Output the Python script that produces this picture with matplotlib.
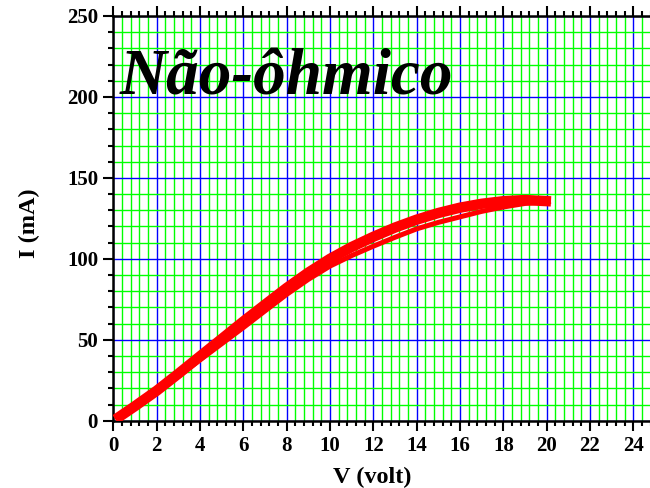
import matplotlib
matplotlib.use("Agg")
import matplotlib.pyplot as plt
from matplotlib.ticker import MultipleLocator

# Data
v_up = [0.1, 1, 2, 3, 4, 5, 6, 7, 8, 9, 10, 11, 12, 13, 14, 15, 16, 17, 18, 19, 20.2]
i_up = [0.8, 9.0, 18.5, 29.0, 39.8, 50.5, 61.3, 71.7, 82.0, 91.5, 100.0, 107.3, 113.6,
        119.3, 124.2, 128.3, 131.6, 134.0, 135.6, 136.3, 135.5]
v_down = [0.1, 1, 2, 3, 4, 5, 6, 7, 8, 9, 10, 11, 12, 13, 14, 15, 16, 17, 18, 19, 20.2]
i_down = [0.8, 8.5, 17.3, 27.3, 37.5, 47.5, 57.5, 67.8, 78.0, 87.3, 95.5, 102.0, 107.8,
          113.3, 118.5, 122.5, 125.9, 129.3, 132.0, 134.2, 135.5]

x_ticks = list(range(0, 25, 2))
y_ticks = [0, 50, 100, 150, 200, 250]
title_text = "Não-ôhmico"
xlabel = "V (volt)"
ylabel = "I (mA)"

plt.rcParams['font.family'] = ['Liberation Serif', 'DejaVu Serif']

fig = plt.figure(figsize=(6.5, 4.88), dpi=100)
ax = fig.add_axes([113.3 / 650, (488 - 420.7) / 488, 541.7 / 650, (420.7 - 16.0) / 488])

ax.set_xlim(0, 25)
ax.set_ylim(0, 250)
ax.xaxis.set_major_locator(MultipleLocator(2))
ax.xaxis.set_minor_locator(MultipleLocator(0.4))
ax.yaxis.set_major_locator(MultipleLocator(50))
ax.yaxis.set_minor_locator(MultipleLocator(10))
ax.set_xticks(x_ticks)
ax.set_yticks(y_ticks)

ax.grid(which='minor', color=(0, 1, 0), linewidth=1.0)
ax.grid(which='major', color=(0, 0, 1), linewidth=1.0)
ax.set_axisbelow(True)

ax.plot(v_down, i_down, color='red', linewidth=3.6, solid_capstyle='butt',
        solid_joinstyle='round', zorder=3)
ax.plot(v_up, i_up, color='red', linewidth=7.5, solid_capstyle='butt',
        solid_joinstyle='round', zorder=4)

for s in ax.spines.values():
    s.set_linewidth(1.8)

ax.tick_params(which='both', direction='out', top=True, right=False,
               width=1.5, labelsize=15)
ax.tick_params(which='major', length=7, pad=4)
ax.tick_params(which='minor', length=3.5)
for lab in ax.get_xticklabels() + ax.get_yticklabels():
    lab.set_fontweight('bold')

ax.set_xlabel(xlabel, fontsize=17.5, fontweight='bold')
ax.xaxis.set_label_coords(0.4785, (420.7 - 483) / 404.7)
ax.xaxis.label.set_verticalalignment('baseline')

ax.set_ylabel(ylabel, fontsize=17.5, fontweight='bold')
ax.yaxis.set_label_coords((29 - 113.3) / 541.7, (420.7 - 223) / 404.7)
ax.yaxis.label.set_verticalalignment('center')

ax.text(0.012, 0.805, title_text, transform=ax.transAxes, fontsize=47,
        fontweight='bold', fontstyle='italic', color='black', zorder=5,
        ha='left', va='baseline')

fig.savefig("out.png", dpi=100)
